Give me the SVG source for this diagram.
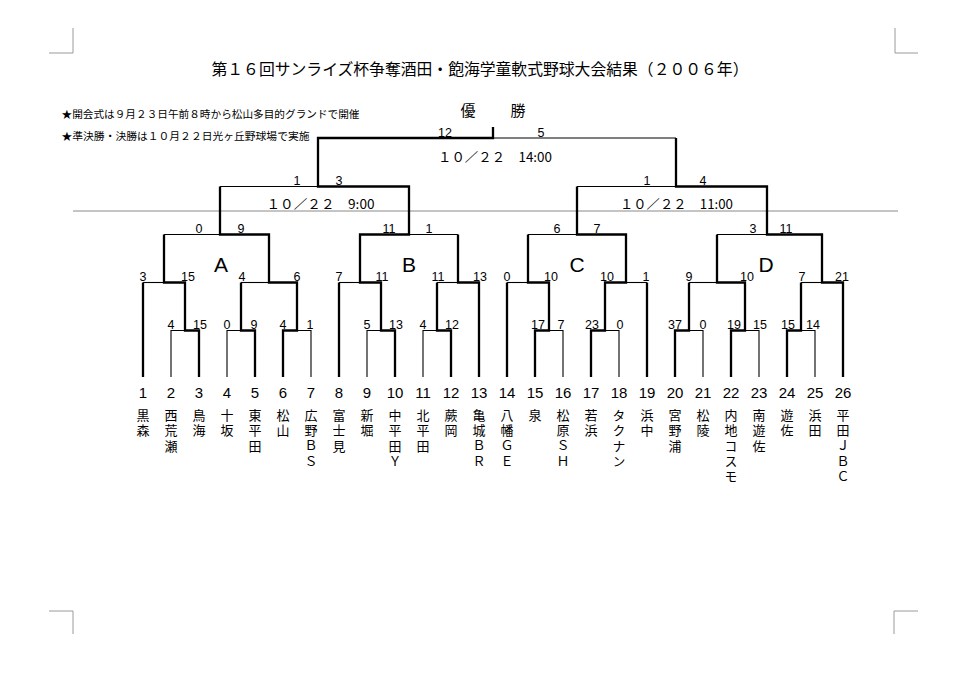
<svg xmlns="http://www.w3.org/2000/svg" width="971" height="686" viewBox="0 0 971 686">
<style>
.bg{fill:#ffffff}
.crop{fill:none;stroke:#9a9a9a;stroke-width:1}
.rule{fill:none;stroke:#8a8a8a;stroke-width:1}
.thin{fill:none;stroke:#000;stroke-width:1.1}
.thick{fill:none;stroke:#000;stroke-width:2.3;stroke-linejoin:miter}
.jp{font-family:"Noto Sans CJK JP","Noto Sans CJK SC",sans-serif;fill:#000}
.title{font-size:16px}
.note{font-size:10.5px}
.win{font-size:15px}
.date{font-size:12.5px}
.s{font-family:"Liberation Sans",Arial,sans-serif;font-size:12.5px;text-anchor:middle;fill:#000}
.num{font-family:"Liberation Sans",Arial,sans-serif;font-size:15px;text-anchor:middle;fill:#000}
.grp{font-family:"Liberation Sans",Arial,sans-serif;font-size:21px;text-anchor:middle;fill:#000}
.nm{font-family:"Noto Sans CJK JP","Noto Sans CJK SC",sans-serif;font-size:13px;writing-mode:vertical-rl;text-orientation:upright;letter-spacing:2.3px;fill:#000}
</style>
<rect class="bg" x="0" y="0" width="971" height="686"/>

<g id="cropmarks">
<path class="crop" d="M49 53 H73 V28"/>
<path class="crop" d="M918 53 H895 V28"/>
<path class="crop" d="M49 611 H73 V634"/>
<path class="crop" d="M918 611 H894 V634"/>
</g>

<g id="header">
<text class="jp title" x="211.5" y="75" textLength="537" lengthAdjust="spacingAndGlyphs">第１６回サンライズ杯争奪酒田・飽海学童軟式野球大会結果（２００６年）</text>
<text class="jp note" x="61.5" y="117.5" textLength="298" lengthAdjust="spacingAndGlyphs">★開会式は９月２３日午前８時から松山多目的グランドで開催</text>
<text class="jp note" x="61.5" y="139.5" textLength="248" lengthAdjust="spacingAndGlyphs">★準決勝・決勝は１０月２２日光ヶ丘野球場で実施</text>
<text class="jp win" x="468" y="116" text-anchor="middle">優</text>
<text class="jp win" x="518" y="116" text-anchor="middle">勝</text>
</g>

<line class="rule" x1="73" y1="211" x2="898" y2="211"/>

<g id="connectors">
<g id="thin-lines">
<path class="thin" d="M171 377 V330.5 H185"/>
<path class="thin" d="M143 282.5 H164"/>
<path class="thin" d="M164 234.5 H220"/>
<path class="thin" d="M227 377 V330.5 H241"/>
<path class="thin" d="M241 282.5 H269"/>
<path class="thin" d="M311 377 V330.5 H297"/>
<path class="thin" d="M220 186.5 H318"/>
<path class="thin" d="M493 138 H676"/>
<path class="thin" d="M339 282.5 H360"/>
<path class="thin" d="M367 377 V330.5 H381"/>
<path class="thin" d="M423 377 V330.5 H437"/>
<path class="thin" d="M437 282.5 H458"/>
<path class="thin" d="M409 234.5 H458"/>
<path class="thin" d="M507 282.5 H528"/>
<path class="thin" d="M563 377 V330.5 H549"/>
<path class="thin" d="M528 234.5 H577"/>
<path class="thin" d="M619 377 V330.5 H605"/>
<path class="thin" d="M626 282.5 H647"/>
<path class="thin" d="M577 186.5 H676"/>
<path class="thin" d="M703 377 V330.5 H689"/>
<path class="thin" d="M689 282.5 H717"/>
<path class="thin" d="M759 377 V330.5 H745"/>
<path class="thin" d="M717 234.5 H767"/>
<path class="thin" d="M815 377 V330.5 H801"/>
<path class="thin" d="M801 282.5 H822"/>
</g>
<g id="winner-lines">
<path class="thick" d="M143 377 V282.5"/>
<path class="thick" d="M199 377 V330.5 H185 V282.5 H164 V234.5"/>
<path class="thick" d="M255 377 V330.5 H241 V282.5"/>
<path class="thick" d="M283 377 V330.5 H297 V282.5 H269 V234.5 H220 V186.5"/>
<path class="thick" d="M339 377 V282.5"/>
<path class="thick" d="M395 377 V330.5 H381 V282.5 H360 V234.5 H409 V186.5 H318 V138 H493 V127"/>
<path class="thick" d="M451 377 V330.5 H437 V282.5"/>
<path class="thick" d="M479 377 V282.5 H458 V234.5"/>
<path class="thick" d="M507 377 V282.5"/>
<path class="thick" d="M535 377 V330.5 H549 V282.5 H528 V234.5"/>
<path class="thick" d="M591 377 V330.5 H605 V282.5 H626 V234.5 H577 V186.5"/>
<path class="thick" d="M647 377 V282.5"/>
<path class="thick" d="M675 377 V330.5 H689 V282.5"/>
<path class="thick" d="M731 377 V330.5 H745 V282.5 H717 V234.5"/>
<path class="thick" d="M787 377 V330.5 H801 V282.5"/>
<path class="thick" d="M843 377 V282.5 H822 V234.5 H767 V186.5 H676 V138"/>
</g>
</g>

<g id="match-info">
<text class="jp date" x="438" y="161.5" textLength="114" lengthAdjust="spacingAndGlyphs">１０／２２　14:00</text>
<text class="jp date" x="266.5" y="209" textLength="108" lengthAdjust="spacingAndGlyphs">１０／２２　9:00</text>
<text class="jp date" x="620" y="209" textLength="113" lengthAdjust="spacingAndGlyphs">１０／２２　11:00</text>
<text class="grp" x="221" y="271.5">A</text>
<text class="grp" x="409" y="271.5">B</text>
<text class="grp" x="577" y="271.5">C</text>
<text class="grp" x="766" y="271.5">D</text>
</g>

<g id="scores">
<text class="s" x="445" y="136.5">12</text>
<text class="s" x="541" y="136.5">5</text>
<text class="s" x="297" y="185">1</text>
<text class="s" x="339" y="185">3</text>
<text class="s" x="647" y="185">1</text>
<text class="s" x="703" y="185">4</text>
<text class="s" x="199" y="232.5">0</text>
<text class="s" x="241" y="232.5">9</text>
<text class="s" x="389" y="232.5">11</text>
<text class="s" x="429" y="232.5">1</text>
<text class="s" x="557" y="232.5">6</text>
<text class="s" x="597" y="232.5">7</text>
<text class="s" x="753" y="232.5">3</text>
<text class="s" x="786" y="232.5">11</text>
<text class="s" x="143" y="281">3</text>
<text class="s" x="188" y="281">15</text>
<text class="s" x="242" y="281">4</text>
<text class="s" x="297" y="281">6</text>
<text class="s" x="339" y="281">7</text>
<text class="s" x="382" y="281">11</text>
<text class="s" x="438" y="281">11</text>
<text class="s" x="480" y="281">13</text>
<text class="s" x="507" y="281">0</text>
<text class="s" x="551" y="281">10</text>
<text class="s" x="607" y="281">10</text>
<text class="s" x="646" y="281">1</text>
<text class="s" x="689" y="281">9</text>
<text class="s" x="747" y="281">10</text>
<text class="s" x="802" y="281">7</text>
<text class="s" x="842" y="281">21</text>
<text class="s" x="171" y="329">4</text>
<text class="s" x="200" y="329">15</text>
<text class="s" x="227" y="329">0</text>
<text class="s" x="254" y="329">9</text>
<text class="s" x="283" y="329">4</text>
<text class="s" x="310" y="329">1</text>
<text class="s" x="367" y="329">5</text>
<text class="s" x="396" y="329">13</text>
<text class="s" x="423" y="329">4</text>
<text class="s" x="452" y="329">12</text>
<text class="s" x="538" y="329">17</text>
<text class="s" x="561" y="329">7</text>
<text class="s" x="592" y="329">23</text>
<text class="s" x="620" y="329">0</text>
<text class="s" x="675" y="329">37</text>
<text class="s" x="703" y="329">0</text>
<text class="s" x="734" y="329">19</text>
<text class="s" x="760" y="329">15</text>
<text class="s" x="788" y="329">15</text>
<text class="s" x="813" y="329">14</text>
</g>

<g id="team1"><text class="num" x="143" y="398">1</text><text class="nm" x="143" y="408.5">黒森</text></g>
<g id="team2"><text class="num" x="171" y="398">2</text><text class="nm" x="171" y="408.5">西荒瀬</text></g>
<g id="team3"><text class="num" x="199" y="398">3</text><text class="nm" x="199" y="408.5">鳥海</text></g>
<g id="team4"><text class="num" x="227" y="398">4</text><text class="nm" x="227" y="408.5">十坂</text></g>
<g id="team5"><text class="num" x="255" y="398">5</text><text class="nm" x="255" y="408.5">東平田</text></g>
<g id="team6"><text class="num" x="283" y="398">6</text><text class="nm" x="283" y="408.5">松山</text></g>
<g id="team7"><text class="num" x="311" y="398">7</text><text class="nm" x="311" y="408.5">広野ＢＳ</text></g>
<g id="team8"><text class="num" x="339" y="398">8</text><text class="nm" x="339" y="408.5">富士見</text></g>
<g id="team9"><text class="num" x="367" y="398">9</text><text class="nm" x="367" y="408.5">新堀</text></g>
<g id="team10"><text class="num" x="395" y="398">10</text><text class="nm" x="395" y="408.5">中平田Ｙ</text></g>
<g id="team11"><text class="num" x="423" y="398">11</text><text class="nm" x="423" y="408.5">北平田</text></g>
<g id="team12"><text class="num" x="451" y="398">12</text><text class="nm" x="451" y="408.5">蕨岡</text></g>
<g id="team13"><text class="num" x="479" y="398">13</text><text class="nm" x="479" y="408.5">亀城ＢＲ</text></g>
<g id="team14"><text class="num" x="507" y="398">14</text><text class="nm" x="507" y="408.5">八幡ＧＥ</text></g>
<g id="team15"><text class="num" x="535" y="398">15</text><text class="nm" x="535" y="408.5">泉</text></g>
<g id="team16"><text class="num" x="563" y="398">16</text><text class="nm" x="563" y="408.5">松原ＳＨ</text></g>
<g id="team17"><text class="num" x="591" y="398">17</text><text class="nm" x="591" y="408.5">若浜</text></g>
<g id="team18"><text class="num" x="619" y="398">18</text><text class="nm" x="619" y="408.5">タクナン</text></g>
<g id="team19"><text class="num" x="647" y="398">19</text><text class="nm" x="647" y="408.5">浜中</text></g>
<g id="team20"><text class="num" x="675" y="398">20</text><text class="nm" x="675" y="408.5">宮野浦</text></g>
<g id="team21"><text class="num" x="703" y="398">21</text><text class="nm" x="703" y="408.5">松陵</text></g>
<g id="team22"><text class="num" x="731" y="398">22</text><text class="nm" x="731" y="408.5">内地コスモ</text></g>
<g id="team23"><text class="num" x="759" y="398">23</text><text class="nm" x="759" y="408.5">南遊佐</text></g>
<g id="team24"><text class="num" x="787" y="398">24</text><text class="nm" x="787" y="408.5">遊佐</text></g>
<g id="team25"><text class="num" x="815" y="398">25</text><text class="nm" x="815" y="408.5">浜田</text></g>
<g id="team26"><text class="num" x="843" y="398">26</text><text class="nm" x="843" y="408.5">平田ＪＢＣ</text></g>
</svg>
